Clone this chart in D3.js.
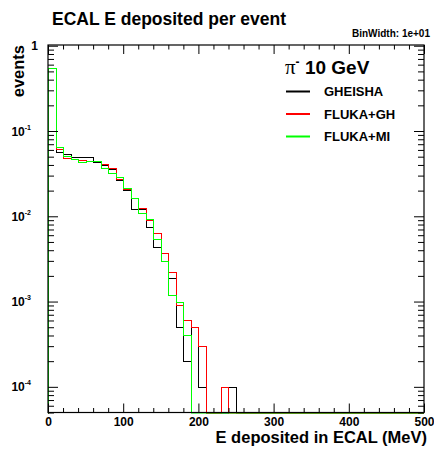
<!DOCTYPE html>
<html>
<head>
<meta charset="utf-8">
<script src="https://cdn.jsdelivr.net/npm/d3@7"></script>
<style>
  body { margin: 0; background: #fff; }
  text { font-family: "Liberation Sans", Arial, sans-serif; font-weight: bold; }
</style>
</head>
<body>
<script>
// bin width 10 MeV, bins start at 0; bins past the end of each list are empty
var binWidth = 10;
var xMax = 500;

var gheisha = [0.554, 0.0573, 0.0543, 0.0496, 0.0496, 0.0496, 0.0433, 0.0396, 0.0362, 0.0266,
               0.0204, 0.0123, 0.0122, 0.0075, 0.0044, 0.0037, 0.0019, 0.0005, 0.0002, 0.0005,
               0.0001, 0, 0, 0, 0.0001];
var flukaGH = [0.554, 0.0621, 0.0478, 0.0466, 0.0453, 0.0445, 0.0445, 0.0414, 0.0372, 0.0275,
               0.0207, 0.0165, 0.0126, 0.0091, 0.0064, 0.0037, 0.0022, 0.0009, 0.0006, 0.0005,
               0.0003, 0, 0, 0.0001];
var flukaMI = [0.554, 0.0656, 0.0514, 0.0474, 0.0437, 0.0441, 0.0445, 0.0372, 0.0325, 0.0292,
               0.0212, 0.0165, 0.0108, 0.0092, 0.0054, 0.0030, 0.0012, 0.0010, 0.0004];

var seriesNames = ["GHEISHA", "FLUKA+GH", "FLUKA+MI"];
var seriesColors = ["#000000", "#ff0000", "#00ff00"];
var seriesData = [gheisha, flukaGH, flukaMI];

var xMajor = [0, 100, 200, 300, 400, 500];
var yDecades = [1, 0.1, 0.01, 0.001, 0.0001];
var yDecadeExp = [0, -1, -2, -3, -4];

var W = 434, H = 453;
var frame = {left: 48, right: 424, top: 45, bottom: 412.5};

var svg = d3.select("body").append("svg")
    .attr("width", W)
    .attr("height", H);

var x = d3.scaleLinear().domain([0, xMax]).range([frame.left, frame.right]);
var y = d3.scaleLog().domain([5e-5, 1.02]).range([frame.bottom, frame.top]);

svg.append("defs").append("clipPath").attr("id", "plotclip")
  .append("rect")
    .attr("x", frame.left).attr("y", frame.top)
    .attr("width", frame.right - frame.left)
    .attr("height", frame.bottom - frame.top + 1);

// histograms
function histPoints(vals) {
    var pts = [[0, 0]];
    for (var i = 0; i < vals.length; i++) {
        pts.push([i * binWidth, vals[i]]);
        pts.push([(i + 1) * binWidth, vals[i]]);
    }
    pts.push([vals.length * binWidth, 0]);
    pts.push([xMax, 0]);
    return pts;
}

var line = d3.line()
    .x(function(d) { return Math.round(x(d[0])) + 0.5; })
    .y(function(d) { return Math.round(d[1] > 0 ? y(d[1]) : frame.bottom) + 0.5; });

var g = svg.append("g").attr("clip-path", "url(#plotclip)");
seriesData.forEach(function(vals, i) {
    g.append("path")
        .attr("d", line(histPoints(vals)))
        .attr("fill", "none")
        .attr("stroke", seriesColors[i])
        .attr("stroke-width", 1)
        .attr("shape-rendering", "crispEdges");
});

// axes
var xMinor = d3.range(0, xMax + 1, 20).filter(function(v) { return v % 100 != 0; });
var yMinor = y.ticks().filter(function(v) { return yDecades.indexOf(v) < 0; });

function plainAxis(sel) {
    sel.select(".domain").remove();
    sel.selectAll(".tick line").attr("stroke", "#000");
}

var xAxis = svg.append("g")
    .attr("transform", "translate(0," + frame.bottom + ")")
    .call(d3.axisBottom(x).tickValues(xMajor).tickSizeInner(-9).tickSizeOuter(0).tickPadding(5)
          .tickFormat(d3.format("d")));
xAxis.call(plainAxis);
xAxis.selectAll(".tick text").attr("font-size", 12).attr("fill", "#000")
    .style("font-family", "'Liberation Sans', Arial, sans-serif").style("font-weight", "bold");

svg.append("g")
    .attr("transform", "translate(0," + frame.bottom + ")")
    .call(d3.axisBottom(x).tickValues(xMinor).tickSizeInner(-4.5).tickSizeOuter(0).tickFormat(""))
    .call(plainAxis);

svg.append("g")
    .attr("transform", "translate(0," + frame.top + ")")
    .call(d3.axisTop(x).tickValues(xMajor).tickSizeInner(-9).tickSizeOuter(0).tickFormat(""))
    .call(plainAxis);
svg.append("g")
    .attr("transform", "translate(0," + frame.top + ")")
    .call(d3.axisTop(x).tickValues(xMinor).tickSizeInner(-4.5).tickSizeOuter(0).tickFormat(""))
    .call(plainAxis);

var yAxis = svg.append("g")
    .attr("transform", "translate(" + frame.left + ",0)")
    .call(d3.axisLeft(y).tickValues(yDecades).tickSizeInner(-10).tickSizeOuter(0).tickFormat(""));
yAxis.call(plainAxis);

svg.append("g")
    .attr("transform", "translate(" + frame.left + ",0)")
    .call(d3.axisLeft(y).tickValues(yMinor).tickSizeInner(-6).tickSizeOuter(0).tickFormat(""))
    .call(plainAxis);
svg.append("g")
    .attr("transform", "translate(" + frame.right + ",0)")
    .call(d3.axisRight(y).tickValues(yDecades).tickSizeInner(-10).tickSizeOuter(0).tickFormat(""))
    .call(plainAxis);
svg.append("g")
    .attr("transform", "translate(" + frame.right + ",0)")
    .call(d3.axisRight(y).tickValues(yMinor).tickSizeInner(-6).tickSizeOuter(0).tickFormat(""))
    .call(plainAxis);

// y labels: 1, 10^-1 ...
yDecades.forEach(function(v, i) {
    var t = svg.append("text")
        .attr("x", 38)
        .attr("y", y(v) + 4.5)
        .attr("text-anchor", "end")
        .attr("font-size", 12);
    if (yDecadeExp[i] == 0) {
        t.text("1");
    } else {
        t.attr("x", 31);
        t.append("tspan").text("10");
        t.append("tspan").attr("dy", -6).attr("font-size", 7).text(yDecadeExp[i]);
    }
});

// frame
svg.append("rect")
    .attr("x", frame.left).attr("y", frame.top)
    .attr("width", frame.right - frame.left)
    .attr("height", frame.bottom - frame.top)
    .attr("fill", "none")
    .attr("stroke", "#000")
    .attr("stroke-width", 1.2);

// titles
svg.append("text")
    .attr("x", 52).attr("y", 25)
    .attr("font-size", 17.5)
    .text("ECAL E deposited per event");

svg.append("text")
    .attr("x", 430).attr("y", 37)
    .attr("text-anchor", "end")
    .attr("font-size", 10)
    .text("BinWidth: 1e+01");

svg.append("text")
    .attr("transform", "translate(24," + frame.top + ") rotate(-90)")
    .attr("text-anchor", "end")
    .attr("font-size", 16.5)
    .text("events");

svg.append("text")
    .attr("x", 427).attr("y", 443)
    .attr("text-anchor", "end")
    .attr("font-size", 16.5)
    .text("E deposited in ECAL (MeV)");

// legend
var head = svg.append("text")
    .attr("x", 285).attr("y", 74)
    .attr("font-size", 19);
head.append("tspan")
    .style("font-family", "'Liberation Serif', 'DejaVu Serif', serif")
    .style("font-weight", "normal")
    .attr("font-size", 21)
    .text("\u03c0");
head.append("tspan").attr("dy", -8).attr("font-size", 12).text("-");
head.append("tspan").attr("dy", 8).text(" 10 GeV");

seriesNames.forEach(function(name, i) {
    var ly = 91.5 + i * 22.5;
    svg.append("line")
        .attr("x1", 286).attr("x2", 310)
        .attr("y1", ly).attr("y2", ly)
        .attr("stroke", seriesColors[i])
        .attr("stroke-width", 2);
    svg.append("text")
        .attr("x", 324).attr("y", ly + 4.5)
        .attr("font-size", 13)
        .text(name);
});
</script>
</body>
</html>
